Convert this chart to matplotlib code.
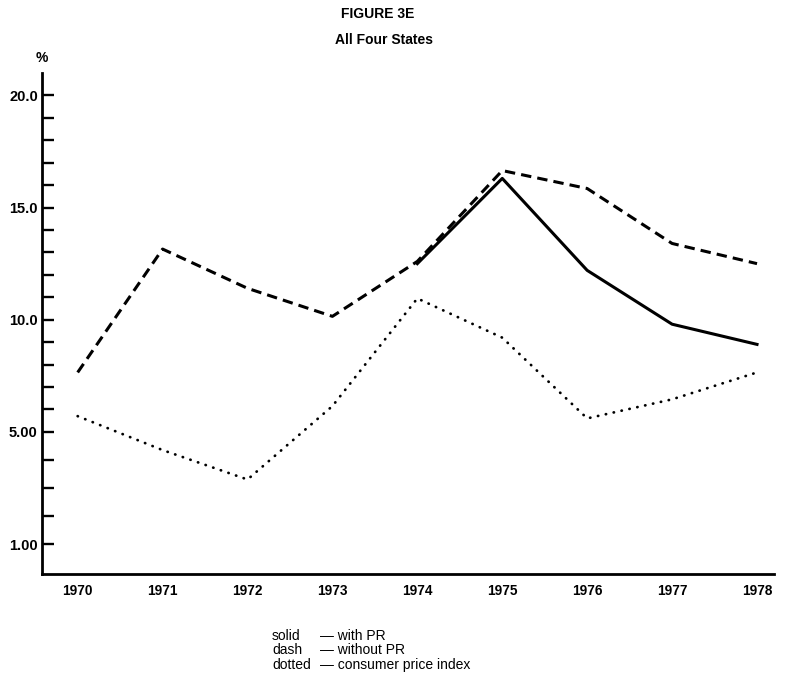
import numpy as np
import matplotlib
matplotlib.use('Agg')
import matplotlib.pyplot as plt

plt.rcParams['font.family'] = ['Liberation Sans', 'DejaVu Sans']

# Data (percent)
years = [1970, 1971, 1972, 1973, 1974, 1975, 1976, 1977, 1978]
without_pr = [7.65, 13.15, 11.4, 10.15, 12.6, 16.65, 15.85, 13.4, 12.5]
with_pr_years = [1974, 1975, 1976, 1977, 1978]
with_pr = [12.5, 16.3, 12.2, 9.8, 8.9]
cpi = [5.7, 4.35, 3.3, 6.15, 10.95, 9.2, 5.6, 6.45, 7.65]

major_ticks = [1, 5, 10, 15, 20]
major_labels = ['1.00', '5.00', '10.0', '15.0', '20.0']
minor_ticks = [2, 3, 4, 6, 7, 8, 9, 11, 12, 13, 14, 16, 17, 18, 19]

legend_keys = ['solid', 'dash', 'dotted']
legend_text = ['\u2014 with PR', '\u2014 without PR', '\u2014 consumer price index']

# the axis is stretched below 5 (28 px per unit instead of 22.4)
k = 28 / 22.4


def fwd(v):
    v = np.asarray(v, dtype=float)
    return np.where(v >= 5, v, 5 - (5 - v) * k)


def inv(t):
    t = np.asarray(t, dtype=float)
    return np.where(t >= 5, t, 5 - (5 - t) / k)


W, H = 785, 676
fig = plt.figure(figsize=(W / 100, H / 100), dpi=100)
ax = fig.add_axes([42 / W, 1 - 574 / H, (774 - 42) / W, (574 - 73) / H])
ax.set_yscale('function', functions=(fwd, inv))

ax.plot(years, without_pr, color='black', lw=2.2, linestyle=(0, (3.4, 2.0)))
ax.plot(with_pr_years, with_pr, color='black', lw=2.2)
ax.plot(years, cpi, color='black', lw=2.0, linestyle=(0, (0.1, 2.8)),
        dash_capstyle='round')

ax.set_xlim(1969.58, 1978.2)
ax.set_ylim(-0.07, 21.0)

ax.set_yticks(major_ticks)
ax.set_yticklabels(major_labels)
ax.set_yticks(minor_ticks, minor=True)
ax.set_yticklabels([], minor=True)
ax.tick_params(axis='y', which='both', direction='in', length=8.6, width=1.7,
               pad=3, labelsize=10.5)
for lab in ax.get_yticklabels():
    lab.set_fontweight('bold')

ax.set_xticks(years)
ax.set_xticklabels([str(y) for y in years], fontweight='bold')
ax.tick_params(axis='x', length=0, pad=7, labelsize=9.8)

for s in ['top', 'right']:
    ax.spines[s].set_visible(False)
for s in ['left', 'bottom']:
    ax.spines[s].set_linewidth(2.0)

# titles and % sign
fig.text(378 / W, 1 - 14 / H, 'FIGURE 3E', ha='center', va='center',
         fontsize=10, fontweight='bold')
fig.text(384 / W, 1 - 40 / H, 'All Four States', ha='center', va='center',
         fontsize=10, fontweight='bold')
fig.text(42 / W, 1 - 58 / H, '%', ha='center', va='center',
         fontsize=10, fontweight='bold')

# legend written as text below the chart
for i in range(3):
    y = 1 - (636 + i * 14.5) / H
    fig.text(272 / W, y, legend_keys[i], ha='left', va='center', fontsize=10)
    fig.text(320 / W, y, legend_text[i], ha='left', va='center', fontsize=10)

fig.savefig('out.png', dpi=100)
